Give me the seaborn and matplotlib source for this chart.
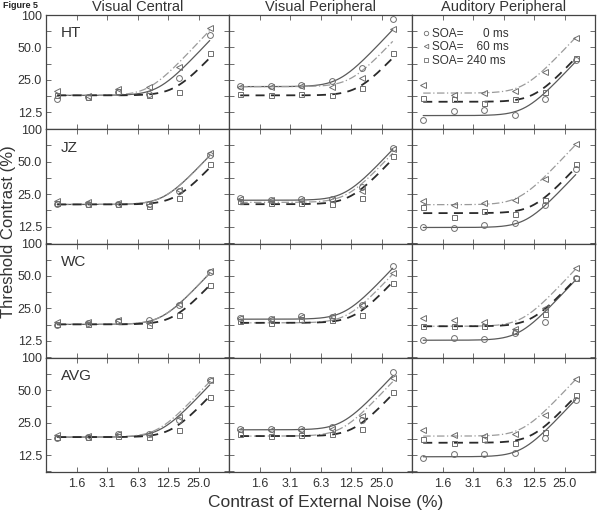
import numpy as np
import pandas as pd
import matplotlib
matplotlib.use("Agg")
import matplotlib.pyplot as plt
from matplotlib.lines import Line2D
from matplotlib.ticker import NullLocator, FixedLocator, FixedFormatter
import seaborn as sns

# ---------------- data ----------------
noise = [1.0, 2.0, 4.0, 8.0, 16.0, 32.0]          # external noise contrast (%), plotted positions
subjects = ["HT", "JZ", "WC", "AVG"]
conditions = ["Visual Central", "Visual Peripheral", "Auditory Peripheral"]
soa_labels = ["SOA=      0 ms", "SOA=    60 ms", "SOA= 240 ms"]

x_tick_vals = [1.5625, 3.125, 6.25, 12.5, 25.0]
x_tick_labels = ["1.6", "3.1", "6.3", "12.5", "25.0"]
y_tick_labels = ["100", "50.0", "25.0", "12.5"]

# thresholds (%) per subject -> [VC, VP, AP], each 6 values over noise
thr_soa0 = {
    "HT":  [[16.8, 17.5, 19.5, 18.5, 26.0, 65.0],
            [22.0, 22.0, 22.3, 24.5, 32.0, 92.0],
            [10.6, 13.0, 13.2, 11.8, 16.5, 38.3]],
    "JZ":  [[20.5, 20.2, 20.5, 20.3, 27.0, 58.0],
            [23.3, 22.2, 22.5, 22.8, 29.4, 66.6],
            [12.5, 12.2, 12.9, 13.4, 19.8, 43.0]],
    "WC":  [[17.5, 18.4, 19.3, 19.5, 27.2, 54.7],
            [20.6, 20.1, 21.2, 20.8, 26.8, 61.6],
            [12.7, 13.2, 13.0, 14.9, 18.6, 48.4]],
    "AVG": [[18.0, 18.4, 19.8, 19.8, 26.3, 61.6],
            [22.1, 21.7, 22.1, 22.8, 26.3, 74.0],
            [11.8, 12.7, 12.7, 13.2, 18.2, 41.0]],
}
thr_soa60 = {
    "HT":  [[19.7, 17.8, 20.5, 21.7, 33.0, 75.0],
            [21.7, 21.7, 22.0, 21.7, 26.0, 73.7],
            [22.3, 18.2, 19.1, 19.8, 29.6, 61.6]],
    "JZ":  [[21.5, 21.3, 20.8, 19.8, 27.5, 60.0],
            [22.5, 22.2, 22.2, 22.2, 27.0, 66.0],
            [21.5, 20.0, 20.6, 22.2, 34.9, 72.6]],
    "WC":  [[18.8, 18.8, 19.5, 18.3, 27.5, 55.5],
            [20.3, 19.8, 21.0, 21.5, 27.0, 53.5],
            [20.2, 19.5, 18.6, 16.3, 25.0, 58.7]],
    "AVG": [[19.2, 18.8, 19.5, 19.5, 28.2, 62.5],
            [21.5, 21.2, 21.5, 21.7, 28.8, 64.3],
            [21.2, 19.1, 18.8, 19.5, 29.4, 63.0]],
}
thr_soa240 = {
    "HT":  [[18.0, 17.5, 19.8, 18.2, 19.4, 44.5],
            [18.6, 18.2, 18.6, 18.2, 21.0, 44.0],
            [16.9, 16.5, 15.2, 16.6, 19.4, 40.3]],
    "JZ":  [[20.8, 20.1, 20.3, 19.5, 23.3, 47.5],
            [21.7, 20.6, 20.8, 20.2, 23.3, 56.7],
            [19.2, 15.5, 17.5, 16.3, 22.2, 47.4]],
    "WC":  [[17.8, 18.0, 19.0, 17.5, 21.7, 41.0],
            [19.1, 18.4, 19.8, 19.6, 21.7, 43.0],
            [17.1, 17.1, 17.1, 15.5, 22.0, 48.4]],
    "AVG": [[18.4, 18.4, 19.0, 18.4, 21.4, 43.5],
            [19.8, 18.8, 19.3, 19.8, 22.1, 48.4],
            [17.8, 16.3, 17.5, 16.3, 20.6, 45.0]],
}

# fitted-curve parameters: (floor level, value at highest noise)
fit_soa0 = {
    "HT":  [(18.0, 58.0), (21.7, 73.0), (11.7, 37.0)],
    "JZ":  [(20.1, 57.0), (22.0, 65.0), (12.3, 38.0)],
    "WC":  [(17.8, 53.0), (19.9, 59.0), (12.7, 46.0)],
    "AVG": [(18.4, 56.0), (21.5, 68.0), (12.1, 41.0)],
}
fit_soa60 = {
    "HT":  [(18.0, 72.0), (21.7, 57.0), (18.9, 62.0)],
    "JZ":  [(20.1, 57.0), (21.0, 60.0), (20.0, 72.0)],
    "WC":  [(17.8, 53.0), (18.4, 52.0), (17.1, 58.0)],
    "AVG": [(18.4, 60.0), (18.8, 60.0), (18.8, 63.0)],
}
fit_soa240 = {
    "HT":  [(18.0, 40.0), (18.0, 40.0), (15.7, 40.0)],
    "JZ":  [(20.1, 44.0), (20.2, 53.0), (16.7, 44.0)],
    "WC":  [(17.8, 41.0), (18.4, 44.0), (17.1, 47.0)],
    "AVG": [(18.4, 44.0), (18.8, 46.0), (16.3, 44.0)],
}

thr_all = [thr_soa0, thr_soa60, thr_soa240]
fit_all = [fit_soa0, fit_soa60, fit_soa240]

# ---------------- style ----------------
sns.set_style("ticks")
plt.rcParams["font.family"] = ["Liberation Sans", "DejaVu Sans"]

markers = ["o", "<", "s"]
marker_sizes = [4.2, 4.2, 3.6]
line_styles = ["-", (0, (6, 2, 1, 2)), (0, (5, 3.5))]
line_colors = ["#5a5a5a", "#9a9a9a", "#2a2a2a"]
line_widths = [0.9, 0.9, 1.3]
marker_edge = "#6e6e6e"
txt_color = "#333333"

W, H = 601, 518
fig = plt.figure(figsize=(W / 100, H / 100), dpi=100)
gs = fig.add_gridspec(4, 3, left=46 / W, right=595 / W, top=1 - 15 / H,
                      bottom=1 - 472 / H, hspace=0, wspace=0)

x_lo, x_hi = 0.775, 49.6
y_lo, y_hi = 8.74, 100.0
y_ticks = [100 * 2 ** (-k / 2) for k in range(0, 8)]
y_tick_text = []
for k in range(0, 8):
    y_tick_text.append(y_tick_labels[k // 2] if k % 2 == 0 else "")

curve_x = np.geomspace(noise[0], noise[-1], 200)
P = 4.0

for r, subj in enumerate(subjects):
    for c, cond in enumerate(conditions):
        ax = fig.add_subplot(gs[r, c])
        ax.set_xscale("log")
        ax.set_yscale("log")

        # fitted curves
        for s in range(3):
            F, E = fit_all[s][subj][c]
            a = (E ** P - F ** P) ** (1 / P) / noise[-1]
            cy = (F ** P + (a * curve_x) ** P) ** (1 / P)
            sns.lineplot(x=curve_x, y=cy, ax=ax, color=line_colors[s],
                         linestyle=line_styles[s], linewidth=line_widths[s],
                         estimator=None, sort=False, zorder=2)
        # data points
        for s in range(3):
            sns.lineplot(x=noise, y=thr_all[s][subj][c], ax=ax, estimator=None,
                         sort=False, linestyle="none", marker=markers[s],
                         markersize=marker_sizes[s], markerfacecolor="none",
                         markeredgecolor=marker_edge, markeredgewidth=0.7,
                         color=marker_edge, zorder=3)

        ax.set_xlim(x_lo, x_hi)
        ax.set_ylim(y_lo, y_hi)
        ax.xaxis.set_major_locator(FixedLocator(x_tick_vals))
        ax.xaxis.set_minor_locator(NullLocator())
        ax.yaxis.set_major_locator(FixedLocator(y_ticks))
        ax.yaxis.set_minor_locator(NullLocator())
        if r == 3:
            ax.xaxis.set_major_formatter(FixedFormatter(x_tick_labels))
        else:
            ax.xaxis.set_major_formatter(FixedFormatter([""] * len(x_tick_vals)))
        if c == 0:
            ax.yaxis.set_major_formatter(FixedFormatter(y_tick_text))
        else:
            ax.yaxis.set_major_formatter(FixedFormatter([""] * len(y_ticks)))
        ax.tick_params(which="both", direction="in", top=True, right=True,
                       length=3.5, width=0.6, color="#555555",
                       labelsize=9, labelcolor=txt_color)
        ax.tick_params(axis="x", pad=4)
        ax.tick_params(axis="y", pad=3)
        for sp in ax.spines.values():
            sp.set_visible(True)
            sp.set_linewidth(0.9)
            sp.set_color("#444444")
        ax.set_xlabel("")
        ax.set_ylabel("")

        if r == 0:
            ax.set_title(cond, fontsize=10.5, color=txt_color, pad=3)
        if c == 0:
            ax.text(0.08, 0.84, subj, transform=ax.transAxes, fontsize=11,
                    color=txt_color, va="center", ha="left")
        if r == 0 and c == 2:
            handles = [Line2D([], [], linestyle="none", marker=markers[s],
                              markersize=3.2, markerfacecolor="none",
                              markeredgecolor=marker_edge, markeredgewidth=0.6)
                       for s in range(3)]
            leg = ax.legend(handles, soa_labels, loc="upper left",
                            bbox_to_anchor=(0.03, 0.93), borderaxespad=0,
                            frameon=False, fontsize=8.5, handlelength=0.6,
                            handletextpad=0.25, labelspacing=0.15)
            for t in leg.get_texts():
                t.set_color(txt_color)

fig.text(3 / W, 1 - 6 / H, "Figure 5", fontsize=6.5, fontweight="bold",
         va="center", ha="left", color="#222222")
fig.text(9 / W, 1 - 232 / H, "Threshold Contrast (%)", rotation=90,
         fontsize=12, va="center", ha="center", color=txt_color)
fig.text(326 / W, 1 - 502 / H, "Contrast of External Noise (%)",
         fontsize=12.5, va="center", ha="center", color=txt_color)

fig.savefig("out.png", dpi=100)
